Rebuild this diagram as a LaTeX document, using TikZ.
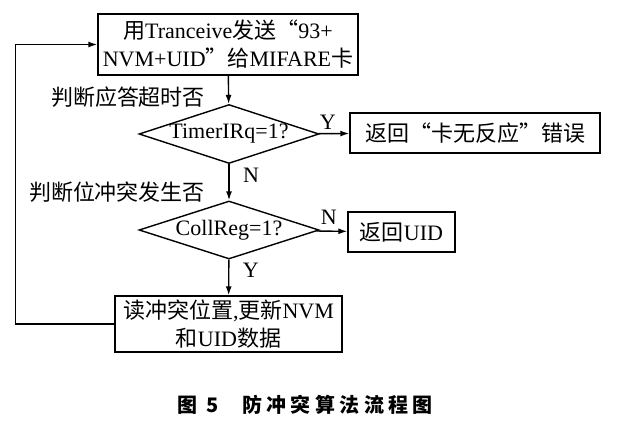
\documentclass[tikz,border=0pt]{standalone}
\usepackage{fontspec}
\setmainfont{Liberation Serif}
\newfontfamily\cjk{Noto Sans CJK SC}
\newfontfamily\cjkcap[LetterSpace=22]{Noto Sans CJK SC}
\newcommand{\zh}[1]{{\cjk #1}}
\usetikzlibrary{shapes.geometric,arrows.meta}

\begin{document}
\begin{tikzpicture}[x=1pt,y=-1pt,line width=1.4pt,
	box/.style={draw, rectangle, inner sep=0pt, align=center},
	cond/.style={draw, diamond, aspect=3, inner sep=0pt},
	>={Latex[length=9pt,width=6pt]},
	font=\fontsize{22}{28}\selectfont]
	\useasboundingbox (0,0) rectangle (619,428);
	\node[box, minimum width=260, minimum height=61] (send) at (228,44.5) {\zh{用}Tranceive\zh{发送“}93+\\NVM+UID\zh{”给}MIFARE\zh{卡}};
	\node[cond, minimum width=180, minimum height=58] (timer) at (229,134) {TimerIRq=1?};
		\node[box, minimum width=250, minimum height=40] (err) at (475,133) {\zh{返回“卡无反应”错误}};
	\node[cond, minimum width=180, minimum height=58] (coll) at (229,230) {CollReg=1?};
		\node[box, minimum width=107, minimum height=40] (uid) at (401.5,232) {\zh{返回}UID};
	\node[box, minimum width=227, minimum height=56] (read) at (228.5,324) {\zh{读冲突位置}{,}\zh{更新}NVM\\\zh{和}UID\zh{数据}};
	\node (q1) at (128,97) {\zh{判断应答超时否}};
	\node (q2) at (117,192) {\zh{判断位冲突发生否}};
	\draw[->] (send) to (timer);
	\draw[->] (timer) to node [above, pos=0.3] {Y} (err);
	\draw[->] (timer) to node [right=10pt, pos=0.3] {N} (coll);
	\draw[->] (coll) to node [above=3pt, pos=0.4] {N} (uid);
	\draw[->] (coll) to node [right=10pt, pos=0.3] {Y} (read);
	\draw[->] (read.west) -- ++(-99,0) |- (send.west);
	\node (cap) at (305,405) {\fontsize{20}{24}\selectfont\cjk\bfseries 图\hspace{9pt}5\hspace{24pt}{\cjkcap 防冲突算法流程图}};
\end{tikzpicture}
\end{document}
